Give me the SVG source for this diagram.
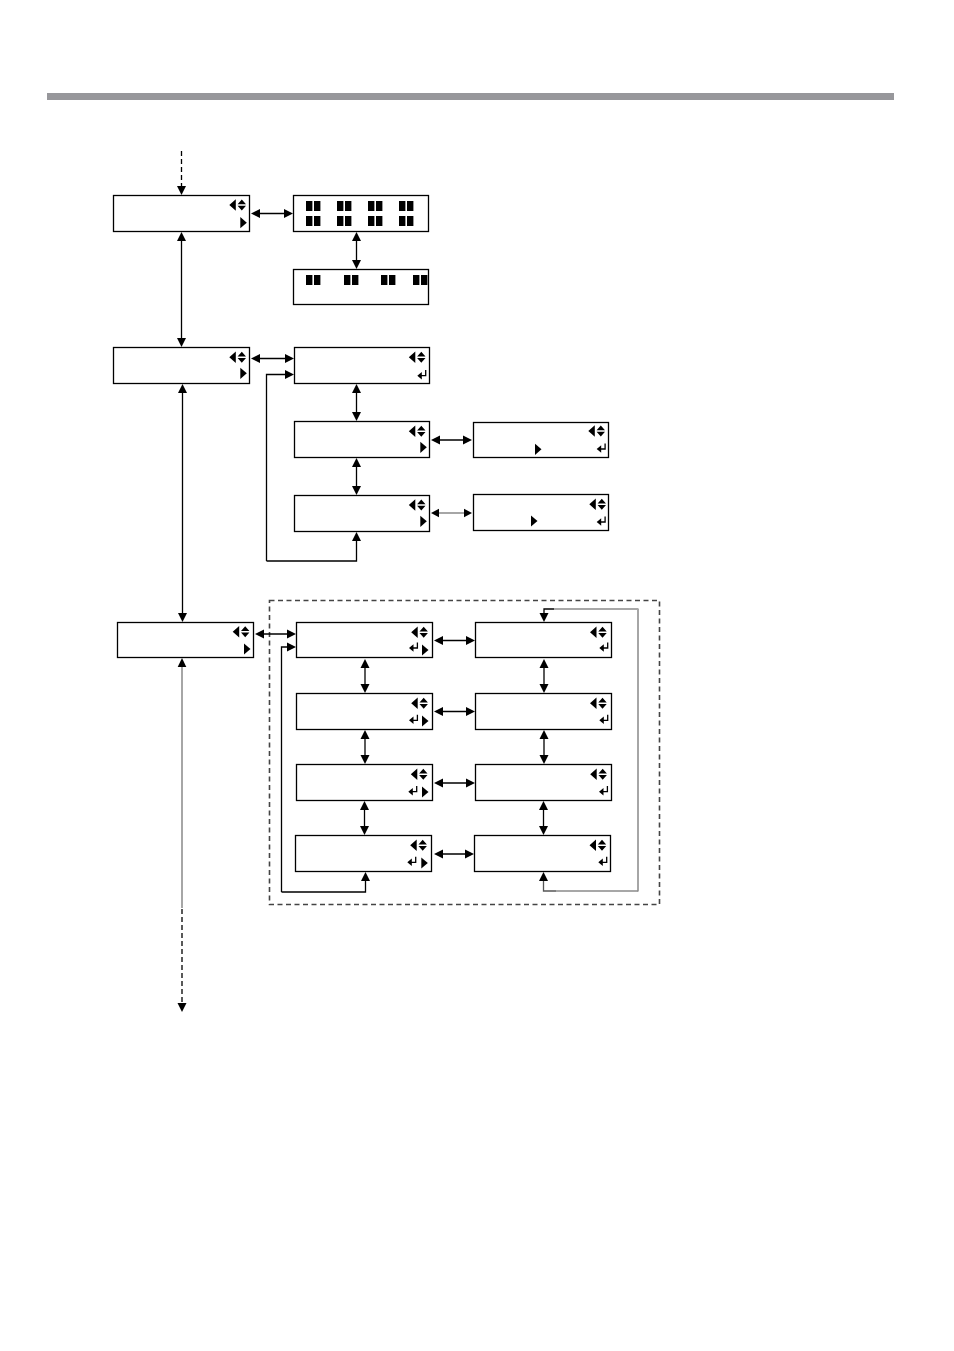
<svg xmlns="http://www.w3.org/2000/svg" width="954" height="1351" viewBox="0 0 954 1351">
<style>
.box{fill:#fff;stroke:#000;stroke-width:1.300}
.c{fill:none;stroke:#000;stroke-width:1.300}
.ar{marker-end:url(#ah)}
.dbl{marker-start:url(#ah);marker-end:url(#ah)}
.dash{stroke-dasharray:5 3}
.g{fill:none;stroke:#a6a6a6;stroke-width:2}
.t{fill:none;stroke:#8a8a8a;stroke-width:1.400}
</style>
<defs>
<marker id="ah" markerUnits="userSpaceOnUse" markerWidth="11" markerHeight="10" refX="6" refY="4.500" orient="auto-start-reverse" viewBox="0 0 11 9"><path d="M0 0L9 4.500L0 9Z" fill="#000"/></marker>
<g id="lud"><path d="M-12.500 0L-6 -5.800V5.800Z M-4.200 -0.800L0 -5.500L4.200 -0.800Z M-4.200 0.800L0 5.500L4.200 0.800Z" fill="#000"/></g>
<path id="rt" d="M0 -5.600L6.500 0L0 5.600Z" fill="#000"/>
<g id="ent"><path d="M0 0L4.500 -3.800V3.800Z" fill="#000"/><path d="M3 0H8.400V-5.600" fill="none" stroke="#000" stroke-width="1.300"/></g>
<g id="pair"><rect x="0" y="0" width="6.400" height="10" fill="#000"/><rect x="8" y="0" width="6.400" height="10" fill="#000"/></g>
</defs>
<rect id="page" width="954" height="1351" fill="#fff"/>
<rect id="topbar" x="47" y="93" width="847" height="7" fill="#97979b"/>

<g id="frame"><rect x="269.500" y="600.500" width="390" height="304" fill="none" stroke="#444" stroke-width="1.600" stroke-dasharray="5 3.500"/></g>

<g id="nodes">
<g id="nA"><rect class="box" x="113.500" y="195.500" width="136" height="36"/><use href="#lud" x="241.800" y="205"/><use href="#rt" x="240.300" y="222.700"/></g>
<g id="nB"><rect class="box" x="293.500" y="195.500" width="135" height="36"/>
<use href="#pair" x="306" y="201"/><use href="#pair" x="337" y="201"/><use href="#pair" x="368" y="201"/><use href="#pair" x="399" y="201"/>
<use href="#pair" x="306" y="216"/><use href="#pair" x="337" y="216"/><use href="#pair" x="368" y="216"/><use href="#pair" x="399" y="216"/></g>
<g id="nC"><rect class="box" x="293.500" y="269.500" width="135" height="35"/>
<use href="#pair" x="306" y="275"/><use href="#pair" x="344" y="275"/><use href="#pair" x="381" y="275"/><use href="#pair" x="413" y="275"/></g>
<g id="nD"><rect class="box" x="113.500" y="347.500" width="136" height="36"/><use href="#lud" x="241.800" y="357.300"/><use href="#rt" x="240.300" y="373.300"/></g>
<g id="nE"><rect class="box" x="294.500" y="347.500" width="135" height="36"/><use href="#lud" x="421.300" y="357.300"/><use href="#ent" x="417.300" y="375.700"/></g>
<g id="nF"><rect class="box" x="294.500" y="421.500" width="135" height="36"/><use href="#lud" x="421.300" y="431.300"/><use href="#rt" x="420.300" y="447.300"/></g>
<g id="nG"><rect class="box" x="294.500" y="495.500" width="135" height="36"/><use href="#lud" x="421.300" y="505"/><use href="#rt" x="420.300" y="521.300"/></g>
<g id="nH"><rect class="box" x="473.500" y="422.500" width="135" height="35"/><use href="#lud" x="600.800" y="431"/><use href="#rt" x="535" y="449.300"/><use href="#ent" x="596.700" y="449"/></g>
<g id="nI"><rect class="box" x="473.500" y="494.500" width="135" height="36"/><use href="#lud" x="601.800" y="504.300"/><use href="#rt" x="531" y="521"/><use href="#ent" x="596.700" y="522"/></g>
<g id="nJ"><rect class="box" x="117.500" y="622.500" width="136" height="35"/><use href="#lud" x="245.200" y="631.700"/><use href="#rt" x="244" y="649"/></g>
<g id="nK"><rect class="box" x="296.500" y="622.500" width="136" height="35"/><use href="#lud" x="423.700" y="632.300"/><use href="#ent" x="409" y="648"/><use href="#rt" x="422" y="650"/></g>
<g id="nL"><rect class="box" x="296.500" y="693.500" width="136" height="36"/><use href="#lud" x="423.700" y="703.300"/><use href="#ent" x="409" y="720.300"/><use href="#rt" x="422" y="721"/></g>
<g id="nM"><rect class="box" x="296.500" y="764.500" width="136" height="36"/><use href="#lud" x="423.300" y="774.300"/><use href="#ent" x="408.300" y="791.700"/><use href="#rt" x="422" y="792"/></g>
<g id="nN"><rect class="box" x="295.500" y="835.500" width="136" height="36"/><use href="#lud" x="422.700" y="845.300"/><use href="#ent" x="407.300" y="862.300"/><use href="#rt" x="421.300" y="863"/></g>
<g id="nO"><rect class="box" x="475.500" y="622.500" width="136" height="35"/><use href="#lud" x="602.500" y="632.300"/><use href="#ent" x="599.300" y="648"/></g>
<g id="nP"><rect class="box" x="475.500" y="693.500" width="136" height="36"/><use href="#lud" x="602.500" y="703.300"/><use href="#ent" x="599.300" y="720.300"/></g>
<g id="nQ"><rect class="box" x="475.500" y="764.500" width="136" height="36"/><use href="#lud" x="602.700" y="774.300"/><use href="#ent" x="599" y="791.700"/></g>
<g id="nR"><rect class="box" x="474.500" y="835.500" width="136" height="36"/><use href="#lud" x="602" y="845.300"/><use href="#ent" x="598.300" y="862.300"/></g>
</g>

<g id="connectors">
<path class="c ar dash" d="M181.500 151V192"/>
<path class="c dbl" d="M181.500 235V344"/>
<path class="c dbl" d="M254 213.500H290"/>
<path class="c dbl" d="M356.500 235V266"/>
<path class="c dbl" d="M254 358.500H291"/>
<path class="c ar" d="M266.500 561V374.500H291"/>
<path class="c ar" d="M266.500 561H356.500V535"/>
<path class="c dbl" d="M356.500 387V418"/>
<path class="c dbl" d="M356.500 461V492"/>
<path class="c dbl" d="M434 440H469"/>
<path class="g" d="M438 513H466"/>
<path d="M431 513L439 508.800V517.200Z M472 513L464 508.800V517.200Z" fill="#000"/>
<path class="c dbl" d="M182.500 387V619"/>
<path class="g" d="M182 665V908"/>
<path d="M182 658L186.300 667H177.700Z" fill="#000"/>
<path class="c ar dash" d="M182 909V1009"/>
<path class="c dbl" d="M258 634H293"/>
<path class="c ar" d="M281.500 892V647H293"/>
<path class="c ar" d="M281.500 892H365.500V875"/>
<path class="c dbl" d="M365 662V690"/>
<path class="c dbl" d="M365 733V761"/>
<path class="c dbl" d="M364.500 804V832"/>
<path class="c dbl" d="M437 640.500H472"/>
<path class="c dbl" d="M437 711.500H472"/>
<path class="c dbl" d="M437 783H472"/>
<path class="c dbl" d="M437 854H471"/>
<path class="c dbl" d="M544 662V690"/>
<path class="c dbl" d="M544 733V761"/>
<path class="c dbl" d="M543.500 804V832"/>
<path class="t" d="M554 609H638"/>
<path class="g" d="M638 608.500V891.500"/>
<path class="t" d="M638 891H556"/>
<path class="c" d="M554 609H544V619" marker-end="url(#ah)"/>
<path fill="none" stroke="#555" stroke-width="1.300" d="M556 891H543.500V875" marker-end="url(#ah)"/>
</g>
</svg>
